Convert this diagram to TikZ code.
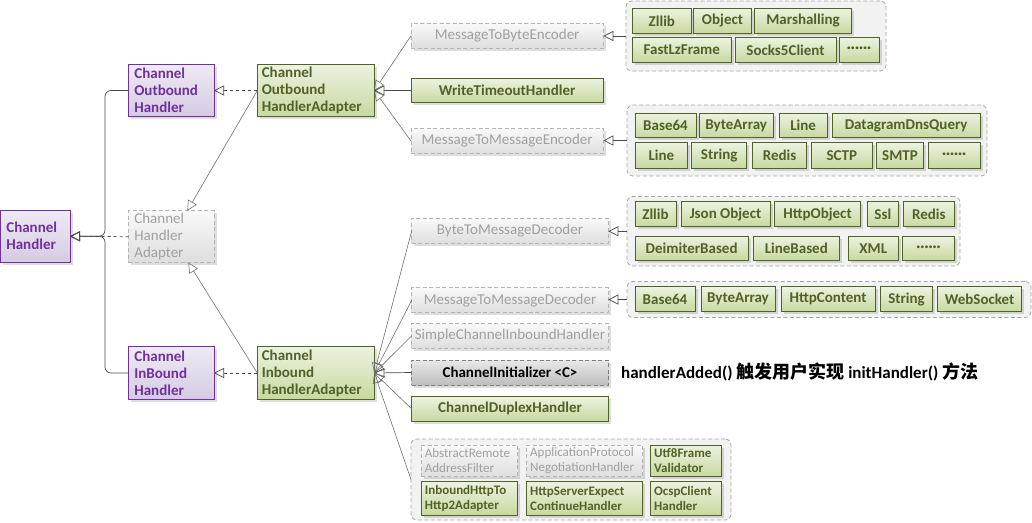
\documentclass[tikz,border=0pt]{standalone}
\usepackage{fontspec}
\setmainfont{Carlito}
\newfontfamily\cjkf{Noto Sans CJK SC}
\usetikzlibrary{arrows.meta,shadows,calc}
\definecolor{purpB}{HTML}{7030A0}
\definecolor{purpT}{HTML}{EEEAF4}
\definecolor{purpD}{HTML}{D5CBE2}
\definecolor{grnB}{HTML}{4F6228}
\definecolor{grnT}{HTML}{ECF2DF}
\definecolor{grnD}{HTML}{C7D9A0}
\definecolor{gryB}{HTML}{B5B5B5}
\definecolor{gryTx}{HTML}{A0A0A0}
\definecolor{gryT}{HTML}{F9F9F9}
\definecolor{gryD}{HTML}{DEDEDE}
\definecolor{iniT}{HTML}{E8E8E8}
\definecolor{iniD}{HTML}{BEBEBE}
\definecolor{iniB}{HTML}{7F7F7F}
\definecolor{grpF}{HTML}{F2F2F2}
\definecolor{grpB}{HTML}{A6A6A6}
\definecolor{lineC}{HTML}{4A4A4A}
\definecolor{lineL}{HTML}{707070}
\newcommand\bx[7]{\node[#1, minimum width={#5-#3}, minimum height={#6-#4}] (#2) at (#3,#4) {#7};}
\tikzset{
  base/.style={draw, outer sep=0pt, inner sep=0pt, anchor=north west, line width=0.8pt,
    font=\fontsize{15}{17}\selectfont,
    drop shadow={shadow xshift=2.5pt, shadow yshift=-2.5pt, fill=black, opacity=0.13}},
  purp/.style={base, draw=purpB, top color=purpT, bottom color=purpD, text=purpB, font=\fontsize{15}{17}\selectfont\bfseries},
  grn/.style={base, draw=grnB, top color=grnT, bottom color=grnD, text=grnB, font=\fontsize{15}{17}\selectfont\bfseries},
  gry/.style={base, draw=gryB, dash pattern=on 4pt off 2.5pt, top color=gryT, bottom color=gryD, text=gryTx},
  ini/.style={base, draw=iniB, dash pattern=on 4pt off 2.5pt, top color=iniT, bottom color=iniD, text=black, font=\fontsize{15}{17}\selectfont\bfseries},
  lft/.style={align=left, text width=#1},
  sm/.style={font=\fontsize{13}{15}\selectfont},
  smb/.style={font=\fontsize{13}{15}\selectfont\bfseries},
  grp/.style={draw=grpB, fill=grpF, dash pattern=on 4pt off 2.5pt, rounded corners=6pt, line width=0.8pt, anchor=north west, outer sep=0pt, inner sep=0pt},
  conn/.style={draw=lineC, line width=0.7pt},
  thin/.style={draw=lineL, line width=0.6pt},
  tri/.style={-{Triangle[open, length=10pt, width=10pt]}},
}
\begin{document}
\begin{tikzpicture}[x=1pt,y=-1pt]
\useasboundingbox (0,0) rectangle (1032,522);
% groups
\bx{grp}{g1}{626}{1}{886}{71}{}
\bx{grp}{g2}{627}{105}{987}{176}{}
\bx{grp}{g3}{627}{196.5}{960}{266}{}
\bx{grp}{g4}{627}{281.5}{1031}{317.5}{}
\bx{grp}{g5}{411}{439}{731}{520}{}
% left hierarchy
\bx{purp, lft=58}{ch}{0.7}{210.5}{70}{262}{Channel\\Handler}
\bx{purp, lft=74}{coh}{128.7}{64.7}{214}{116.3}{Channel\\Outbound\\Handler}
\bx{gry, lft=74, font=\fontsize{15}{17}\selectfont}{cha}{128.7}{210.7}{214}{262.7}{Channel\\Handler\\Adapter}
\bx{purp, lft=74}{cih}{128.7}{346.7}{214}{399.3}{Channel\\InBound\\Handler}
\bx{grn, lft=108}{coha}{257.3}{64.7}{374.3}{116.3}{Channel\\Outbound\\HandlerAdapter}
\bx{grn, lft=108}{ciha}{257.3}{346.7}{374.3}{399.3}{Channel\\Inbound\\HandlerAdapter}
% encoders
\bx{gry}{mtbe}{411}{23.3}{603.3}{48.3}{MessageToByteEncoder}
\bx{grn}{wth}{411}{78.3}{603.3}{102.7}{WriteTimeoutHandler}
\bx{gry}{mtme}{411}{128.5}{603.3}{153.5}{MessageToMessageEncoder}
% decoders
\bx{gry}{btmd}{411.7}{218.3}{608.3}{243.3}{ByteToMessageDecoder}
\bx{gry}{mtmd}{411.7}{287.7}{608.3}{312.7}{MessageToMessageDecoder}
\bx{gry}{scih}{411.7}{323.3}{608.3}{348.3}{SimpleChannelInboundHandler}
\bx{ini}{ci}{411.7}{360}{608.3}{385}{ChannelInitializer <C>}
\bx{grn}{cdh}{411.7}{396.7}{608.3}{421}{ChannelDuplexHandler}
% group 1 items
\bx{grn}{a1}{632.7}{8.3}{691}{33.3}{Zllib}
\bx{grn}{a2}{693.3}{8.3}{751.7}{33.3}{Object}
\bx{grn}{a3}{754.3}{8.3}{851.7}{33.3}{Marshalling}
\bx{grn}{a4}{632.7}{37.7}{731}{62.3}{FastLzFrame}
\bx{grn}{a5}{735}{37.7}{836}{62.3}{Socks5Client}
\bx{grn}{a6}{839}{37.7}{879}{62.3}{······}
% group 2 items
\bx{grn}{b1}{635}{113.3}{696}{137.7}{Base64}
\bx{grn}{b2}{699}{113.3}{773.3}{137.7}{ByteArray}
\bx{grn}{b3}{779}{113.3}{827.3}{137.7}{Line}
\bx{grn}{b4}{832.3}{113.3}{980}{137.7}{DatagramDnsQuery}
\bx{grn}{b5}{635}{142.7}{687.7}{168.3}{Line}
\bx{grn}{b6}{691.7}{142.7}{746.7}{168.3}{String}
\bx{grn}{b7}{752.3}{142.7}{806.7}{168.3}{Redis}
\bx{grn}{b8}{811}{142.7}{872.7}{168.3}{SCTP}
\bx{grn}{b9}{876.7}{142.7}{923.3}{168.3}{SMTP}
\bx{grn}{b10}{928.3}{142.7}{980}{168.3}{······}
% group 3 items
\bx{grn}{c1}{635}{201.7}{676}{226.7}{Zllib}
\bx{grn}{c2}{681}{201.7}{770}{226.7}{Json Object}
\bx{grn}{c3}{774.3}{201.7}{860.7}{226.7}{HttpObject}
\bx{grn}{c4}{867.3}{201.7}{898.3}{226.7}{Ssl}
\bx{grn}{c5}{903.3}{201.7}{954.3}{226.7}{Redis}
\bx{grn}{c6}{635}{236}{748.3}{260.7}{DeimiterBased}
\bx{grn}{c7}{753.3}{236}{839.3}{260.7}{LineBased}
\bx{grn}{c8}{848.3}{236}{898.3}{260.7}{XML}
\bx{grn}{c9}{902.7}{236}{954.3}{260.7}{······}
% group 4 items
\bx{grn}{d1}{635}{286.7}{695}{311.7}{Base64}
\bx{grn}{d2}{701}{286.7}{775}{311.7}{ByteArray}
\bx{grn}{d3}{781}{286.7}{875}{311.7}{HttpContent}
\bx{grn}{d4}{880.7}{286.7}{932.3}{311.7}{String}
\bx{grn}{d5}{937.3}{286.7}{1021.7}{311.7}{WebSocket}
% group 5 items
\bx{gry, sm, lft=89}{e1}{421}{445}{517.7}{476.7}{AbstractRemote\\AddressFilter}
\bx{gry, sm, lft=109}{e2}{526.7}{445}{642.7}{476.7}{ApplicationProtocol\\NegotiationHandler}
\bx{grn, smb, lft=64}{e3}{650.7}{445}{721.7}{476.7}{Utf8Frame\\Validator}
\bx{grn, smb, lft=89}{e4}{421}{481.7}{517.7}{515}{InboundHttpTo\\Http2Adapter}
\bx{grn, smb, lft=109}{e5}{526.7}{481.7}{642.7}{515}{HttpServerExpect\\ContinueHandler}
\bx{grn, smb, lft=64}{e6}{650.7}{481.7}{721.7}{515}{OcspClient\\Handler}
% annotation
\node[anchor=west, inner sep=0pt, font=\fontsize{17}{19}\selectfont\bfseries] (note) at (621,372)
  {handlerAdded() {\cjkf\bfseries\fontsize{18}{20}\selectfont 触发用户实现} initHandler() {\cjkf\bfseries\fontsize{18}{20}\selectfont 方法}};
% connectors: left tree
\coordinate (jt) at (105,236.2);
\draw[conn, rounded corners=6pt, tri] (coh.west) -| (jt) -- (ch.east);
\draw[conn, rounded corners=6pt, tri] (cih.west) -| (jt) -- (ch.east);
\draw[conn, dashed, tri] (cha.west) -- (ch.east);
\draw[conn, dashed, tri] (coha.west) -- (coh.east);
\draw[conn, dashed, tri] (ciha.west) -- (cih.east);
\coordinate (chaT) at ([xshift=16pt]cha.north);
\coordinate (chaB) at ([xshift=17pt]cha.south);
\draw[thin, tri] (coha.west) -- (chaT);
\draw[thin, tri] (ciha.west) -- (chaB);
% connectors: outbound adapter
\draw[thin, tri] (mtbe.west) -- (coha.east);
\draw[conn, tri] (wth.west) -- (coha.east);
\draw[thin, tri] (mtme.west) -- (coha.east);
% connectors: inbound adapter
\draw[thin, tri] (btmd.west) -- (ciha.east);
\draw[thin, tri] (mtmd.west) -- (ciha.east);
\draw[thin, tri] (scih.west) -- (ciha.east);
\draw[conn, tri] (ci.west) -- (ciha.east);
\draw[thin, tri] (cdh.west) -- (ciha.east);
\draw[thin, tri] (g5.west) -- (ciha.east);
% groups to boxes
\draw[conn, tri] (g1.west) -- (g1.west -| mtbe.east);
\draw[conn, tri] (g2.west) -- (g2.west -| mtme.east);
\draw[conn, tri] (g3.west) -- (g3.west -| btmd.east);
\draw[conn, tri] (g4.west) -- (g4.west -| mtmd.east);
\end{tikzpicture}
\end{document}
